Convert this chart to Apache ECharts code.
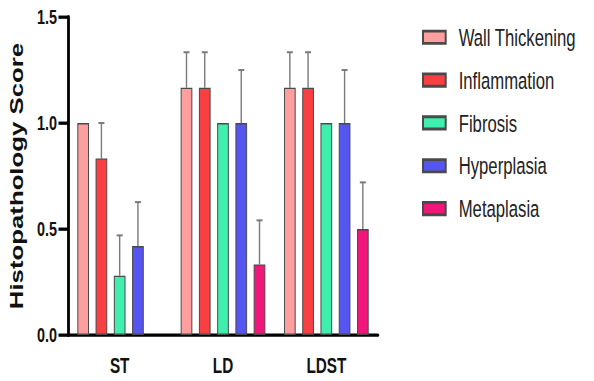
<!DOCTYPE html>
<html>
<head>
<meta charset="utf-8">
<script src="https://cdn.jsdelivr.net/npm/echarts@6/dist/echarts.min.js"></script>
<style>
  html, body { margin: 0; padding: 0; background: #fff; overflow: hidden; }
  #wrap { width: 594px; height: 381px; overflow: hidden; }
  /* the figure is drawn on a shorter canvas and stretched vertically */
  #chart { width: 594px; height: 266px; transform: scaleY(1.4323); transform-origin: 0 0; }
</style>
</head>
<body>
<div id="wrap"><div id="chart"></div></div>
<script>
const groups = ['ST', 'LD', 'LDST'];
const seriesNames = ['Wall Thickening', 'Inflammation', 'Fibrosis', 'Hyperplasia', 'Metaplasia'];

// mean scores per group (ST, LD, LDST)
const wallThickening = [1.0, 1.167, 1.167];
const inflammation   = [0.833, 1.167, 1.167];
const fibrosis       = [0.28, 1.0, 1.0];
const hyperplasia    = [0.42, 1.0, 1.0];
const metaplasia     = [null, 0.333, 0.5];

// upper error (SEM) per group
const wallThickeningErr = [0, 0.167, 0.167];
const inflammationErr   = [0.167, 0.167, 0.167];
const fibrosisErr       = [0.19, 0, 0];
const hyperplasiaErr    = [0.207, 0.25, 0.25];
const metaplasiaErr     = [null, 0.208, 0.22];

const yTicks = [0, 0.5, 1.0, 1.5];

const means = [wallThickening, inflammation, fibrosis, hyperplasia, metaplasia];
const errs = [wallThickeningErr, inflammationErr, fibrosisErr, hyperplasiaErr, metaplasiaErr];
const colors = ['#FF9E9E', '#F93F42', '#3FEFAE', '#5555F2', '#F0167A'];

const BAR_W = 11.7;
const BAR_GAP = 0.56;
const PITCH = BAR_W * (1 + BAR_GAP);
const FONT = "'Liberation Sans', Arial, sans-serif";

const barSeries = seriesNames.map((name, i) => ({
  name,
  type: 'bar',
  data: means[i],
  barWidth: BAR_W,
  barGap: (BAR_GAP * 100) + '%',
  itemStyle: { color: colors[i], borderColor: '#4a4a4a', borderWidth: 1 },
  z: 3
}));

// upward error bars with a short cap, centred on each bar of the group
const errSeries = seriesNames.map((name, i) => ({
  name: name + ' error',
  type: 'custom',
  z: 2,
  data: groups.map((g, c) => [c, means[i][c], errs[i][c]]).filter(d => d[1] != null && d[2]),
  encode: { x: 0, y: 1 },
  renderItem(params, api) {
    const c = api.value(0), v = api.value(1), e = api.value(2);
    const p0 = api.coord([c, v]);
    const p1 = api.coord([c, v + e]);
    const x = p0[0] + (i - 2) * PITCH;
    const st = { stroke: '#7a7a7a', lineWidth: 1.4 };
    return {
      type: 'group',
      children: [
        { type: 'line', shape: { x1: x, y1: p0[1], x2: x, y2: p1[1] }, style: st },
        { type: 'line', shape: { x1: x - 3, y1: p1[1], x2: x + 3, y2: p1[1] }, style: st }
      ]
    };
  }
}));

const chart = echarts.init(document.getElementById('chart'), null, { renderer: 'svg' });
chart.setOption({
  animation: false,
  backgroundColor: '#fff',
  grid: { left: 68, right: 216, top: 11.9, bottom: 32.1 },
  legend: {
    data: seriesNames,
    orient: 'vertical',
    left: 422,
    top: 17.5,
    padding: 0,
    itemWidth: 22.7,
    itemHeight: 8.6,
    itemGap: 12.9,
    icon: 'rect',
    selectedMode: false,
    textStyle: { fontFamily: FONT, fontSize: 16.7, color: '#222', padding: [0, 0, 0, 8] }
  },
  xAxis: {
    type: 'category',
    data: groups,
    axisLine: { lineStyle: { color: '#000', width: 2.3 } },
    axisTick: { alignWithLabel: true, length: 8.5, lineStyle: { color: '#000', width: 2.3 } },
    axisLabel: { fontFamily: FONT, fontWeight: 'bold', fontSize: 15.3, color: '#111', margin: 14 }
  },
  yAxis: {
    type: 'value',
    min: yTicks[0],
    max: yTicks[yTicks.length - 1],
    interval: yTicks[1] - yTicks[0],
    name: 'Histopathology Score',
    nameLocation: 'middle',
    nameGap: 36,
    nameTextStyle: { fontFamily: FONT, fontWeight: 'bold', fontSize: 18, color: '#111' },
    axisLine: { show: true, lineStyle: { color: '#000', width: 2.8 } },
    axisTick: { show: true, length: 9.5, lineStyle: { color: '#000', width: 2.3 } },
    axisLabel: {
      fontFamily: FONT, fontWeight: 'bold', fontSize: 14.4, color: '#111', margin: 11,
      formatter: v => v.toFixed(1)
    },
    splitLine: { show: false }
  },
  series: [...barSeries, ...errSeries]
});
</script>
</body>
</html>
